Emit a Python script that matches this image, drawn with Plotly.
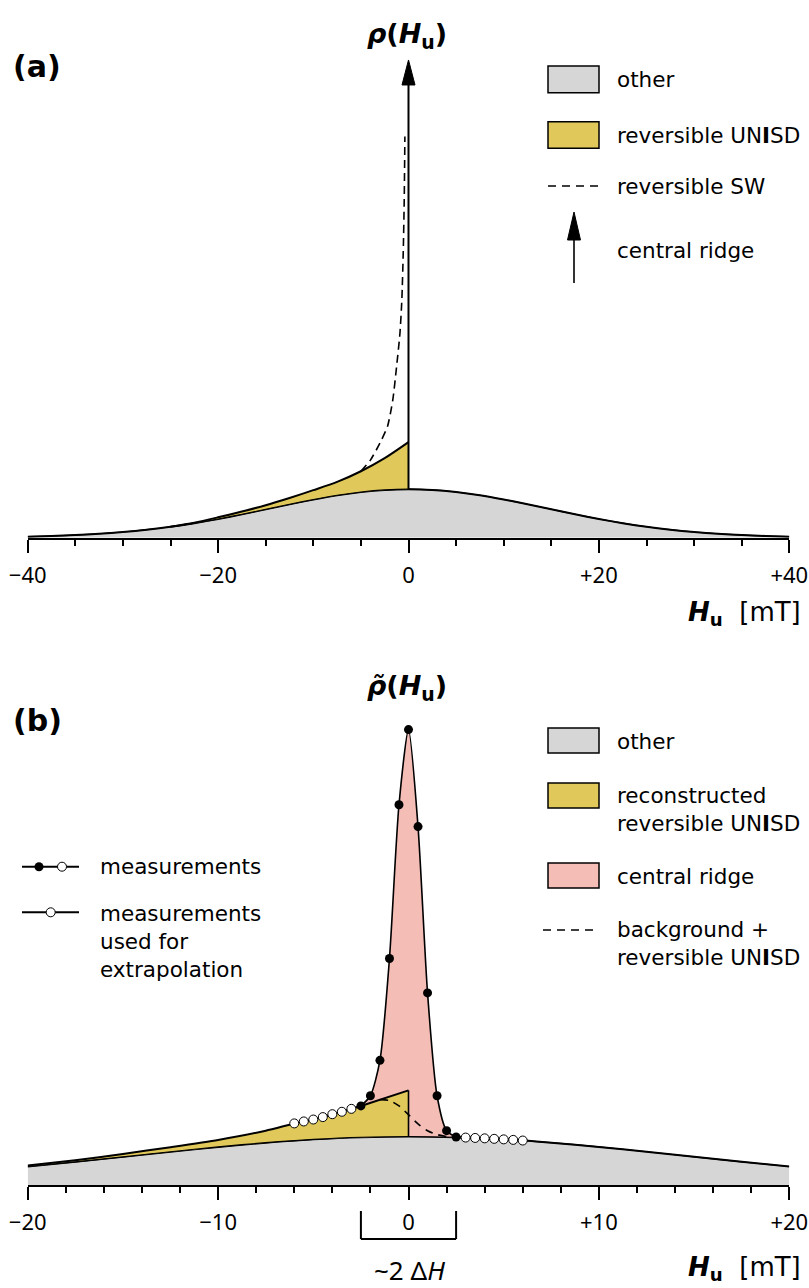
import plotly.graph_objects as go

FIG_W, FIG_H = 809, 1288
FONT = "DejaVu Sans, Noto Sans, sans-serif"
TICK_FONT = "Noto Sans, DejaVu Sans, sans-serif"

GRAY = "#d6d6d6"
YELLOW = "#e0c95a"
PINK = "#f4bdb6"
INK = "#000000"

# ---------------- panel (a): distribution model ----------------
A_X = [-40, -37.5, -35, -32.5, -30, -27.5, -25, -22.5, -20, -17.5, -15, -12.5, -10, -7.5, -5, -2.5,
       0, 2.5, 5, 7.5, 10, 12.5, 15, 17.5, 20, 22.5, 25, 27.5, 30, 32.5, 35, 37.5, 40]
A_OTHER = [0.022, 0.035, 0.054, 0.081, 0.118, 0.166, 0.226, 0.300, 0.386, 0.483, 0.586, 0.690, 0.788,
           0.875, 0.942, 0.985, 1.000, 0.985, 0.942, 0.875, 0.788, 0.690, 0.586, 0.483, 0.386, 0.300,
           0.226, 0.166, 0.118, 0.081, 0.054, 0.035, 0.022]
A_UNISD_X = [-25, -22.5, -20, -17.5, -15, -12.5, -10, -7.5, -5, -2.5, 0]
A_UNISD_Y = [0.228, 0.31, 0.42, 0.54, 0.67, 0.82, 0.98, 1.15, 1.37, 1.64, 1.97]
A_SW_X = [-5.0, -4.0, -3.0, -2.2, -1.65, -1.25, -0.9, -0.7, -0.55, -0.45, -0.38]
A_SW_Y = [1.37, 1.60, 1.95, 2.30, 2.84, 3.53, 4.21, 4.90, 5.90, 6.96, 8.27]
A_RIDGE_TOP = 9.85
A_TICKS = [-40, -20, 0, 20, 40]
A_TICKTEXT = ["\u221240", "\u221220", "0", "+20", "+40"]

# ---------------- panel (b): reconstruction from measurements ----------------
B_X = [-20, -17.5, -15, -12.5, -10, -7.5, -5, -2.5, 0, 2.5, 5, 7.5, 10, 12.5, 15, 17.5, 20]
B_OTHER = [0.381, 0.478, 0.581, 0.686, 0.786, 0.873, 0.941, 0.985, 1.000, 0.985, 0.941, 0.873,
           0.786, 0.686, 0.581, 0.478, 0.381]
B_UNISD_TAIL_X = [-20, -17.5, -15, -12.5, -10, -7.5]
B_UNISD_TAIL_Y = [0.40, 0.51, 0.64, 0.78, 0.93, 1.12]
B_UNISD_PEAK = 1.95
B_EXTRAP_L_X = [-6.0, -5.5, -5.0, -4.5, -4.0, -3.5, -3.0]
B_EXTRAP_L_Y = [1.27, 1.31, 1.35, 1.40, 1.46, 1.51, 1.57]
B_EXTRAP_R_X = [3.0, 3.5, 4.0, 4.5, 5.0, 5.5, 6.0]
B_EXTRAP_R_Y = [0.978, 0.970, 0.962, 0.952, 0.941, 0.930, 0.917]
B_MEAS_X = [-2.5, -2.0, -1.5, -1.0, -0.5, 0.0, 0.5, 1.0, 1.5, 2.0, 2.5]
B_MEAS_Y = [1.63, 1.84, 2.57, 4.67, 7.84, 9.39, 7.39, 3.96, 1.84, 1.12, 0.99]
B_BG_X = [-1.5, -1.0, -0.5, 0.0, 0.5, 1.0, 1.5, 2.0, 2.5]
B_BG_Y = [1.76, 1.74, 1.63, 1.45, 1.26, 1.12, 1.04, 1.00, 0.985]
B_TICKS = [-20, -10, 0, 10, 20]
B_TICKTEXT = ["\u221220", "\u221210", "0", "+10", "+20"]
DELTA_H = 2.5

# ---------------- page geometry (pixels) ----------------
PLOT_L, PLOT_R = 27.7, 789.3
A_AXIS_Y, B_AXIS_Y = 537.7, 1185.0
UNIT_PX = 48.5   # vertical pixels per density unit
Y_RANGE = 10.0


def ydom(axis_px):
    return [1 - axis_px / FIG_H, 1 - (axis_px - UNIT_PX * Y_RANGE) / FIG_H]


XDOM = [PLOT_L / FIG_W, PLOT_R / FIG_W]

fig = go.Figure()


def curve(x, y, xa, ya, **kw):
    fig.add_trace(go.Scatter(x=x, y=y, xaxis=xa, yaxis=ya, hoverinfo="skip", **kw))


def sub_at(xs, ys, lo, hi):
    pts = [(a, b) for a, b in zip(xs, ys) if lo <= a <= hi]
    return [p[0] for p in pts], [p[1] for p in pts]


SPL = dict(shape="spline", smoothing=0.8)

# ---- panel (a) ----
curve(A_X, A_OTHER, "x", "y", mode="lines", fill="tozeroy", fillcolor=GRAY,
      line=dict(color=INK, width=2, **SPL))
bx, by = sub_at(A_X, A_OTHER, A_UNISD_X[0], 0)
curve(bx, by, "x", "y", mode="lines", line=dict(width=0, **SPL))
curve(A_UNISD_X, A_UNISD_Y, "x", "y", mode="lines", fill="tonexty", fillcolor=YELLOW,
      line=dict(color=INK, width=2, **SPL))
curve(A_X, A_OTHER, "x", "y", mode="lines", line=dict(color=INK, width=1.2, **SPL))
curve(A_SW_X, A_SW_Y, "x", "y", mode="lines",
      line=dict(color=INK, width=1.6, dash="8px,5px", shape="spline", smoothing=0.6))
a_peak = A_OTHER[A_X.index(0)]
curve([0, 0], [a_peak, A_RIDGE_TOP - 0.3], "x", "y", mode="lines", line=dict(color=INK, width=2))

# arrowhead for the central ridge (pixel size converted to data units)
a_px_per_mT = (PLOT_R - PLOT_L) / 80.0
head_len = 25 / UNIT_PX
head_hw = 6.5 / a_px_per_mT
fig.add_shape(type="path", xref="x", yref="y",
              path=f"M 0 {A_RIDGE_TOP} L {-head_hw} {A_RIDGE_TOP - head_len} "
                   f"L {head_hw} {A_RIDGE_TOP - head_len} Z",
              fillcolor=INK, line=dict(color=INK, width=1))

# ---- panel (b) ----
curve(B_X, B_OTHER, "x2", "y2", mode="lines", fill="tozeroy", fillcolor=GRAY,
      line=dict(color=INK, width=2, **SPL))
px_, py_ = sub_at(B_X, B_OTHER, B_MEAS_X[0], B_MEAS_X[-1])
curve(px_, py_, "x2", "y2", mode="lines", line=dict(width=0, **SPL))
curve(B_MEAS_X, B_MEAS_Y, "x2", "y2", mode="lines", fill="tonexty", fillcolor=PINK,
      line=dict(color=INK, width=1.6, shape="spline", smoothing=0.7))

# reconstructed UNISD: tail, extrapolation points, first ridge point, peak at 0
yx = B_UNISD_TAIL_X + B_EXTRAP_L_X + [B_MEAS_X[0], 0]
yy = B_UNISD_TAIL_Y + B_EXTRAP_L_Y + [B_MEAS_Y[0], B_UNISD_PEAK]
bx2, by2 = sub_at(B_X, B_OTHER, yx[0], 0)
curve(bx2, by2, "x2", "y2", mode="lines", line=dict(width=0, **SPL))
curve(yx, yy, "x2", "y2", mode="lines", fill="tonexty", fillcolor=YELLOW,
      line=dict(color=INK, width=2, shape="spline", smoothing=0.6))
curve(B_X, B_OTHER, "x2", "y2", mode="lines", line=dict(color=INK, width=1.2, **SPL))
b_peak = B_OTHER[B_X.index(0)]
curve([0, 0], [b_peak, B_UNISD_PEAK], "x2", "y2", mode="lines", line=dict(color=INK, width=1.6))
curve(B_BG_X, B_BG_Y, "x2", "y2", mode="lines",
      line=dict(color=INK, width=1.6, dash="8px,6px", shape="spline", smoothing=0.8))
curve([B_MEAS_X[-1]] + B_EXTRAP_R_X, [B_MEAS_Y[-1]] + B_EXTRAP_R_Y, "x2", "y2",
      mode="lines", line=dict(color=INK, width=2, **SPL))
curve(B_EXTRAP_L_X + B_EXTRAP_R_X, B_EXTRAP_L_Y + B_EXTRAP_R_Y, "x2", "y2", mode="markers",
      marker=dict(size=9, color="white", line=dict(color=INK, width=1)))
curve(B_MEAS_X, B_MEAS_Y, "x2", "y2", mode="markers",
      marker=dict(size=9, color=INK, line=dict(color=INK, width=0)))

# ---- measurement key (pixel overlay) ----
curve([22, 79], [866.7, 866.7], "x3", "y3", mode="lines", line=dict(color=INK, width=2))
curve([39], [866.7], "x3", "y3", mode="markers", marker=dict(size=9, color=INK))
curve([62], [866.7], "x3", "y3", mode="markers",
      marker=dict(size=9, color="white", line=dict(color=INK, width=1)))
curve([22, 79], [912.3, 912.3], "x3", "y3", mode="lines", line=dict(color=INK, width=2))
curve([50.7], [912.3], "x3", "y3", mode="markers",
      marker=dict(size=9, color="white", line=dict(color=INK, width=1)))

# bracket marking the ridge width
for xs, ys in (([-DELTA_H, -DELTA_H], [1211, 1239]), ([DELTA_H, DELTA_H], [1211, 1239]),
               ([-DELTA_H, DELTA_H], [1239, 1239])):
    fig.add_shape(type="line", xref="x2", yref="y3", x0=xs[0], x1=xs[1], y0=ys[0], y1=ys[1],
                  line=dict(color=INK, width=2))


# ---- legend keys (pixel overlay) ----
def box(y0, y1, color):
    fig.add_shape(type="rect", xref="x3", yref="y3", x0=548, x1=599, y0=y0, y1=y1,
                  fillcolor=color, line=dict(color=INK, width=1.5))


def dashed(y, x0=548):
    fig.add_shape(type="line", xref="x3", yref="y3", x0=x0, x1=599, y0=y, y1=y,
                  line=dict(color=INK, width=1.6, dash="8px,6px"))


box(66, 92.7, GRAY)
box(121.7, 148.3, YELLOW)
dashed(186)
fig.add_shape(type="line", xref="x3", yref="y3", x0=574, x1=574, y0=283, y1=236,
              line=dict(color=INK, width=1.6))
fig.add_shape(type="path", xref="x3", yref="y3",
              path="M 574 212 L 567.5 240 L 580.5 240 Z", fillcolor=INK,
              line=dict(color=INK, width=1))
box(728, 753, GRAY)
box(783, 808, YELLOW)
box(863, 888, PINK)
dashed(930, 543)


def text(x, y, s, size=21.5, xanchor="left", yanchor="middle", align="left", family=FONT):
    fig.add_annotation(x=x, y=y, xref="x3", yref="y3", text=s, showarrow=False,
                       xanchor=xanchor, yanchor=yanchor, align=align,
                       font=dict(family=family, size=size, color=INK))


UNISD = "UN<b>I</b>SD"
text(615, 79, "other")
text(615, 135, "reversible " + UNISD)
text(615, 186, "reversible SW")
text(615, 250, "central ridge")
text(615, 741, "other")
text(615, 809, "reconstructed<br>reversible " + UNISD)
text(615, 876, "central ridge")
text(615, 943.5, "background +<br>reversible " + UNISD)
text(98, 866, "measurements")
text(98, 941, "measurements<br>used for<br>extrapolation")

text(37, 66, "<b>(a)</b>", size=30, xanchor="center")
text(37, 720, "<b>(b)</b>", size=30, xanchor="center")
text(407, 35, "<b><i>\u03c1</i>(<i>H</i><sub>u</sub>)</b>", size=27, xanchor="center")
text(407, 687, "<b><i>\u03c1\u0303</i>(<i>H</i><sub>u</sub>)</b>", size=27, xanchor="center")
text(803, 613, "<b><i>H</i><sub>u</sub></b>  [mT]", size=26, xanchor="right")
text(803, 1268, "<b><i>H</i><sub>u</sub></b>  [mT]", size=26, xanchor="right")
text(409, 1270, "~2 \u0394<i>H</i>", size=26, xanchor="center", family=TICK_FONT)

axis_common = dict(showgrid=False, zeroline=False, showline=True, linecolor=INK, linewidth=2,
                   ticks="outside", ticklen=13, tickwidth=1.8, tickcolor=INK,
                   tickfont=dict(family=TICK_FONT, size=22, color=INK), ticklabelstandoff=4,
                   domain=XDOM, fixedrange=True, automargin=False)
hidden = dict(visible=False, fixedrange=True, automargin=False)

fig.update_layout(
    template="none",
    width=FIG_W, height=FIG_H, margin=dict(l=0, r=0, t=0, b=0, pad=0),
    paper_bgcolor="white", plot_bgcolor="rgba(0,0,0,0)", showlegend=False,
    xaxis=dict(range=[-40, 40], tickmode="array", tickvals=A_TICKS, ticktext=A_TICKTEXT,
               anchor="y",
               minor=dict(tickmode="linear", tick0=0, dtick=5, ticks="outside", ticklen=6,
                          tickwidth=1.5, tickcolor=INK, showgrid=False), **axis_common),
    yaxis=dict(range=[0, Y_RANGE], domain=ydom(A_AXIS_Y), anchor="x", **hidden),
    xaxis2=dict(range=[-20, 20], tickmode="array", tickvals=B_TICKS, ticktext=B_TICKTEXT,
                anchor="y2",
                minor=dict(tickmode="linear", tick0=0, dtick=2, ticks="outside", ticklen=6,
                           tickwidth=1.5, tickcolor=INK, showgrid=False), **axis_common),
    yaxis2=dict(range=[0, Y_RANGE], domain=ydom(B_AXIS_Y), anchor="x2", **hidden),
    xaxis3=dict(range=[0, FIG_W], domain=[0, 1], anchor="y3", **hidden),
    yaxis3=dict(range=[FIG_H, 0], domain=[0, 1], anchor="x3", **hidden),
)

fig.write_html("out.html", post_script="document.body.style.margin='0';")
